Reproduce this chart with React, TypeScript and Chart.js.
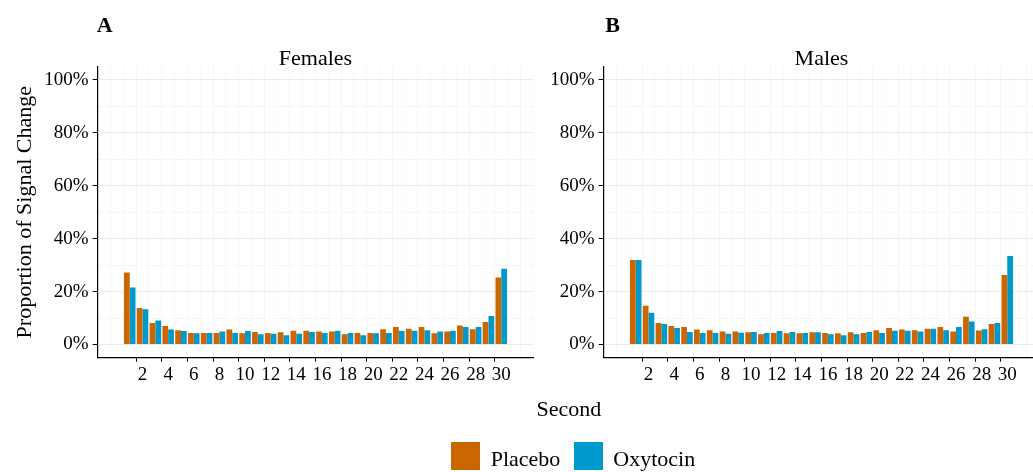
import React, { useEffect, useRef } from 'react';
import { Chart, registerables } from 'chart.js';

Chart.register(...registerables);

// ---------- data ----------
const seconds = [1, 2, 3, 4, 5, 6, 7, 8, 9, 10, 11, 12, 13, 14, 15, 16, 17, 18, 19, 20, 21, 22, 23, 24, 25, 26, 27, 28, 29, 30];

const femalesPlacebo = [27.2, 13.8, 8.1, 7.0, 5.4, 4.3, 4.3, 4.3, 5.7, 4.2, 4.7, 4.3, 4.6, 5.2, 5.2, 4.9, 4.9, 3.9, 4.3, 4.3, 5.8, 6.6, 5.9, 6.6, 4.2, 4.9, 7.2, 5.8, 8.5, 25.3];
const femalesOxytocin = [21.5, 13.3, 9.1, 5.7, 5.1, 4.2, 4.3, 4.9, 4.3, 5.1, 3.9, 4.1, 3.5, 4.1, 4.7, 4.3, 5.2, 4.3, 3.5, 4.2, 4.3, 5.2, 5.2, 5.4, 4.9, 5.2, 6.6, 6.6, 10.8, 28.6];

const malesPlacebo = [31.9, 14.6, 8.1, 7.0, 6.6, 5.7, 5.4, 4.9, 4.9, 4.6, 3.9, 4.3, 4.2, 4.2, 4.6, 4.3, 4.2, 4.6, 4.3, 5.4, 6.2, 5.7, 5.4, 5.9, 6.6, 4.9, 10.5, 5.3, 7.7, 26.3];
const malesOxytocin = [31.9, 12.0, 7.7, 6.2, 4.7, 4.3, 4.3, 4.1, 4.4, 4.7, 4.3, 5.1, 4.7, 4.3, 4.6, 3.9, 3.5, 3.9, 4.7, 4.3, 5.2, 5.2, 4.9, 5.9, 5.4, 6.6, 8.7, 5.8, 8.1, 33.4];

const xTickLabels = [2, 4, 6, 8, 10, 12, 14, 16, 18, 20, 22, 24, 26, 28, 30];
const xGridValues = [0, 1, 2, 3, 4, 5, 6, 7, 8, 9, 10, 11, 12, 13, 14, 15, 16, 17, 18, 19, 20, 21, 22, 23, 24, 25, 26, 27, 28, 29, 30, 31, 32];
const yTickLabels = [0, 20, 40, 60, 80, 100];
const yGridValues = [0, 10, 20, 30, 40, 50, 60, 70, 80, 90, 100];

const seriesNames = ['Placebo', 'Oxytocin'];
const seriesColors = ['#CC6600', '#0099CC'];

// ---------- layout ----------
const FONT = '"Liberation Serif", "Times New Roman", serif';
const CANVAS_W = 545;
const CANVAS_H = 400;
const AREA_LEFT = 97.7;
const AREA_TOP = 66.7;
const AREA_RIGHT = 533.3;
const AREA_BOTTOM = 357.7;

const panelTextPlugin = {
  id: 'panelText',
  afterDraw(chart: any, _args: any, opts: any) {
    const { ctx, chartArea } = chart;
    ctx.save();
    ctx.fillStyle = '#000';
    ctx.textBaseline = 'alphabetic';
    ctx.font = `22px ${FONT}`;
    ctx.textAlign = 'center';
    ctx.fillText(opts.title, (chartArea.left + chartArea.right) / 2, 65);
    ctx.font = `bold 22px ${FONT}`;
    ctx.textAlign = 'left';
    ctx.fillText(opts.letter, chartArea.left + opts.letterDx, 32.3);
    ctx.restore();
  },
};

type PanelProps = {
  title: string;
  letter: string;
  letterDx: number;
  placebo: number[];
  oxytocin: number[];
  showYTitle: boolean;
  left: number;
};

function Panel({ title, letter, letterDx, placebo, oxytocin, showYTitle, left }: PanelProps) {
  const ref = useRef<HTMLCanvasElement | null>(null);

  useEffect(() => {
    if (!ref.current) return;
    const values = [placebo, oxytocin];
    const chart = new Chart(ref.current, {
      type: 'bar',
      data: {
        datasets: seriesNames.map((name, k) => ({
          label: name,
          data: seconds.map((s, i) => ({ x: s, y: values[k][i] })),
          backgroundColor: seriesColors[k],
          borderWidth: 0,
          categoryPercentage: 0.9,
          barPercentage: 1.0,
        })),
      },
      options: {
        animation: false,
        responsive: false,
        events: [],
        layout: {
          padding: { left: 0, top: AREA_TOP, right: CANVAS_W - AREA_RIGHT, bottom: 0 },
        },
        plugins: {
          legend: { display: false },
          tooltip: { enabled: false },
          title: { display: false },
          panelText: { title, letter, letterDx },
        } as any,
        scales: {
          x: {
            type: 'linear',
            min: -1.5,
            max: 32.5,
            offset: false,
            afterBuildTicks: (s: any) => {
              s.ticks = xGridValues.map((v) => ({ value: v }));
            },
            afterFit: (s: any) => {
              s.height = CANVAS_H - AREA_BOTTOM;
            },
            ticks: {
              autoSkip: false,
              maxRotation: 0,
              minRotation: 0,
              padding: 2,
              color: '#000',
              font: { family: FONT, size: 19 },
              callback: (v: any) => (xTickLabels.includes(Number(v)) ? String(v) : ''),
            },
            grid: {
              color: (ctx: any) => (ctx.tick && ctx.tick.value % 2 === 0 ? '#F5F5F5' : '#F9F9F9'),
              tickColor: (ctx: any) => (ctx.tick && xTickLabels.includes(ctx.tick.value) ? '#000' : 'rgba(0,0,0,0)'),
              tickLength: 4,
              lineWidth: 1,
            },
            border: { display: true, color: '#000', width: 1.2 },
          },
          y: {
            type: 'linear',
            min: -5,
            max: 105,
            afterBuildTicks: (s: any) => {
              s.ticks = yGridValues.map((v) => ({ value: v }));
            },
            afterFit: (s: any) => {
              s.width = AREA_LEFT;
            },
            ticks: {
              autoSkip: false,
              padding: 4,
              color: '#000',
              font: { family: FONT, size: 19 },
              callback: (v: any) => (yTickLabels.includes(Number(v)) ? `${v}%` : ''),
            },
            grid: {
              color: (ctx: any) => (ctx.tick && ctx.tick.value % 20 === 0 ? '#EBEBEB' : '#F5F5F5'),
              tickColor: (ctx: any) => (ctx.tick && yTickLabels.includes(ctx.tick.value) ? '#000' : 'rgba(0,0,0,0)'),
              tickLength: 5,
              lineWidth: 1,
            },
            border: { display: true, color: '#000', width: 1.2 },
            title: {
              display: showYTitle,
              text: 'Proportion of Signal Change',
              color: '#000',
              font: { family: FONT, size: 22 },
              padding: { top: 12, bottom: 0 },
            },
          },
        },
      } as any,
      plugins: [panelTextPlugin],
    });
    return () => chart.destroy();
  }, [title, letter, letterDx, placebo, oxytocin, showYTitle]);

  return (
    <canvas
      ref={ref}
      width={CANVAS_W}
      height={CANVAS_H}
      style={{ position: 'absolute', left, top: 0, width: CANVAS_W, height: CANVAS_H }}
    />
  );
}

const textStyle: React.CSSProperties = {
  position: 'absolute',
  fontFamily: FONT,
  fontSize: 22,
  lineHeight: '22px',
  color: '#000',
  whiteSpace: 'nowrap',
};

export default function App() {
  return (
    <div
      style={{
        position: 'fixed',
        left: 0,
        top: 0,
        width: 1033,
        height: 472,
        overflow: 'hidden',
        background: '#fff',
      }}
    >
      <Panel title="Females" letter="A" letterDx={-1} placebo={femalesPlacebo} oxytocin={femalesOxytocin} showYTitle={true} left={0} />
      <Panel title="Males" letter="B" letterDx={1.5} placebo={malesPlacebo} oxytocin={malesOxytocin} showYTitle={false} left={505.6} />
      <div style={{ ...textStyle, left: 469, width: 200, textAlign: 'center', top: 398 }}>Second</div>
      <div style={{ position: 'absolute', left: 450.7, top: 441.7, width: 29.3, height: 28.3, background: seriesColors[0] }} />
      <div style={{ ...textStyle, left: 490.7, top: 448 }}>{seriesNames[0]}</div>
      <div style={{ position: 'absolute', left: 574, top: 441.7, width: 29.3, height: 28.3, background: seriesColors[1] }} />
      <div style={{ ...textStyle, left: 613.3, top: 448 }}>{seriesNames[1]}</div>
    </div>
  );
}
